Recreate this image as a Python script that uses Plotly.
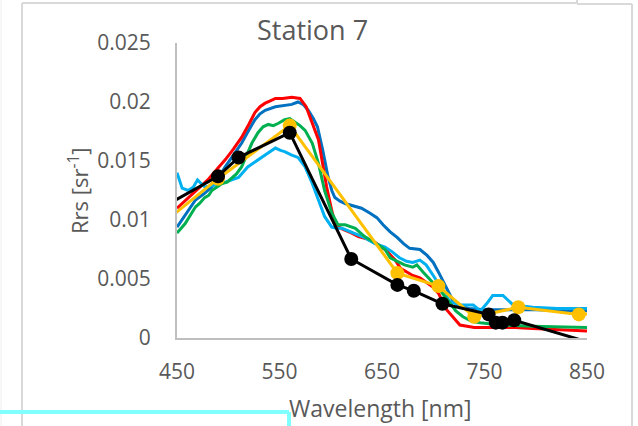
import plotly.graph_objects as go

# ---------------- data ----------------
red_wl = [450, 460, 470, 480, 490, 497, 505, 513, 520, 526, 531, 536, 541, 546, 553, 562, 570, 576, 582, 588,
          592, 596, 601, 604, 608, 612, 620, 627, 635, 643, 653, 663, 668, 680, 687, 700, 705, 710, 713, 719,
          726, 733, 740, 746, 760, 780, 797, 820, 850]
red_rrs = [0.0110, 0.0118, 0.0126, 0.0134, 0.0144, 0.0151, 0.0160, 0.0170, 0.0181, 0.0191, 0.0196, 0.0199,
           0.0201, 0.0203, 0.0203, 0.0204, 0.0203, 0.0196, 0.0182, 0.0168, 0.0148, 0.0128, 0.0108, 0.0097,
           0.0094, 0.0092, 0.0089, 0.0086, 0.0084, 0.0081, 0.0075, 0.0066, 0.0059, 0.0053, 0.0051, 0.0043,
           0.0038, 0.0030, 0.0024, 0.0018, 0.0011, 0.0010, 0.0009, 0.0009, 0.0009, 0.0009, 0.0008, 0.0007, 0.0006]

blue_wl = [450, 458, 468, 476, 484, 490, 497, 505, 513, 520, 526, 531, 536, 546, 555, 562, 568, 573, 578, 583,
           587, 592, 597, 601, 604, 609, 614, 622, 630, 638, 645, 651, 658, 665, 671, 677, 687, 694, 700, 705,
           710, 715, 719, 725, 735, 750, 770, 800, 830, 850]
blue_rrs = [0.0094, 0.0104, 0.0117, 0.0122, 0.0128, 0.0135, 0.0145, 0.0155, 0.0165, 0.0176, 0.0185, 0.0190,
            0.0193, 0.0196, 0.0197, 0.0198, 0.0200, 0.0198, 0.0193, 0.0186, 0.0179, 0.0160, 0.0138, 0.0125,
            0.0119, 0.0116, 0.0114, 0.0112, 0.0110, 0.0106, 0.0102, 0.0096, 0.0090, 0.0085, 0.0080, 0.0076,
            0.0075, 0.0070, 0.0064, 0.0056, 0.0047, 0.0039, 0.0032, 0.0027, 0.0025, 0.0024, 0.0024, 0.0024,
            0.0023, 0.0023]

green_wl = [450, 454, 458, 463, 468, 472, 477, 481, 484, 489, 494, 499, 504, 508, 513, 518, 523, 529, 534, 539,
            544, 549, 555, 560, 565, 570, 575, 582, 588, 594, 601, 607, 614, 620, 624, 633, 643, 653, 658, 665,
            672, 680, 684, 690, 700, 707, 716, 722, 729, 738, 746, 765, 797, 850]
green_rrs = [0.0089, 0.0093, 0.0097, 0.0104, 0.0111, 0.0114, 0.0119, 0.0121, 0.0125, 0.0128, 0.0131, 0.0132,
             0.0136, 0.0139, 0.0145, 0.0155, 0.0165, 0.0174, 0.0179, 0.0181, 0.0180, 0.0182, 0.0185, 0.0186,
             0.0183, 0.0180, 0.0176, 0.0165, 0.0148, 0.0125, 0.0106, 0.0096, 0.0096, 0.0094, 0.0093, 0.0086,
             0.0081, 0.0075, 0.0068, 0.0065, 0.0062, 0.0060, 0.0062, 0.0056, 0.0047, 0.0040, 0.0030, 0.0023,
             0.0018, 0.0014, 0.0013, 0.0011, 0.0010, 0.0009]

lblue_wl = [450, 455, 461, 466, 470, 474, 477, 484, 490, 500, 510, 519, 526, 533, 540, 546, 551, 555, 562, 568,
            575, 582, 588, 594, 601, 606, 611, 620, 633, 643, 653, 660, 667, 674, 680, 687, 693, 700, 707, 716,
            726, 739, 746, 752, 758, 768, 778, 797, 821, 850]
lblue_rrs = [0.0140, 0.0127, 0.0125, 0.0128, 0.0134, 0.0131, 0.0128, 0.0129, 0.0130, 0.0133, 0.0136, 0.0145,
             0.0149, 0.0153, 0.0157, 0.0161, 0.0159, 0.0158, 0.0155, 0.0153, 0.0145, 0.0131, 0.0117, 0.0103,
             0.0094, 0.0093, 0.0093, 0.0090, 0.0085, 0.0080, 0.0077, 0.0073, 0.0068, 0.0065, 0.0064, 0.0066,
             0.0062, 0.0053, 0.0043, 0.0031, 0.0028, 0.0028, 0.0023, 0.0029, 0.0036, 0.0036, 0.0028, 0.0026,
             0.0025, 0.0025]

msi_wl = [443, 490, 560, 665, 705, 740, 783, 842, 865]
msi_rrs = [0.0102, 0.0135, 0.0180, 0.0055, 0.0044, 0.0018, 0.0026, 0.0020, 0.0021]

olci_wl = [442.5, 490, 510, 560, 620, 665, 681, 709, 754, 761, 767.5, 779, 865]
olci_rrs = [0.0114, 0.0137, 0.0153, 0.0174, 0.0067, 0.0045, 0.0040, 0.0029, 0.0020, 0.0013, 0.0013, 0.0015, -0.0007]

x_ticks = [450, 550, 650, 750, 850]
y_ticks = [0, 0.005, 0.01, 0.015, 0.02, 0.025]
y_ticktext = ["0", "0.005", "0.01", "0.015", "0.02", "0.025"]

# ---------------- figure ----------------
FONT = "Open Sans"
GREY = "#595959"

fig = go.Figure()
line_series = [
    (blue_wl, blue_rrs, "#0070C0"),
    (red_wl, red_rrs, "#FF0000"),
    (lblue_wl, lblue_rrs, "#00B0F0"),
    (green_wl, green_rrs, "#00B050"),
]
for wl, rrs, col in line_series:
    fig.add_trace(go.Scatter(x=wl, y=rrs, mode="lines", line=dict(color=col, width=3), hoverinfo="skip"))

fig.add_trace(go.Scatter(x=msi_wl, y=msi_rrs, mode="lines+markers",
                         line=dict(color="#FFC000", width=3),
                         marker=dict(color="#FFC000", size=14)))
fig.add_trace(go.Scatter(x=olci_wl, y=olci_rrs, mode="lines+markers",
                         line=dict(color="#000000", width=3),
                         marker=dict(color="#000000", size=14)))

L, R, T, B = 177, 51, 43, 88
W, H = 638, 426
PW, PH = W - L - R, H - T - B


def px(x):
    return (x - L) / PW


def py(y):
    return (H - B - y) / PH


shapes = []


def seg(x0, y0, x1, y1, color, width):
    shapes.append(dict(type="line", xref="paper", yref="paper",
                       x0=px(x0), y0=py(y0), x1=px(x1), y1=py(y1),
                       line=dict(color=color, width=width)))


# decorative frame pieces around the chart
seg(22, 3, 577, 3, "#D9D9D9", 2)
seg(22, 3, 22, 426, "#D9D9D9", 2)
seg(577, 0, 577, 3, "#D9D9D9", 2)
seg(577, 4, 632, 4, "#D9D9D9", 2)
seg(632, 4, 632, 426, "#D9D9D9", 2)
seg(1, 0, 1, 426, "#EEEEEE", 1)
seg(0, 412, 289, 412, "#80FFFF", 4)
seg(289, 412, 289, 426, "#80FFFF", 4)

annotations = [
    dict(text="Station 7", x=px(312), y=py(29), xref="paper", yref="paper", showarrow=False,
         font=dict(family=FONT, size=27, color=GREY), xanchor="center", yanchor="middle"),
    dict(text="Wavelength [nm]", x=px(380), y=py(408), xref="paper", yref="paper", showarrow=False,
         font=dict(family=FONT, size=23, color=GREY), xanchor="center", yanchor="middle"),
    dict(text="Rrs [sr<sup>-1</sup>]", x=px(78), y=py(191), xref="paper", yref="paper", showarrow=False,
         textangle=-90, font=dict(family=FONT, size=22, color=GREY), xanchor="center", yanchor="middle"),
]

fig.update_layout(
    width=W, height=H,
    margin=dict(l=L, r=R, t=T, b=B),
    paper_bgcolor="white", plot_bgcolor="white",
    showlegend=False,
    shapes=shapes,
    annotations=annotations,
    xaxis=dict(range=[450, 850], tickvals=x_ticks, showgrid=False, zeroline=False,
               showline=True, linecolor="#BFBFBF", linewidth=2, ticks="",
               tickfont=dict(family=FONT, size=21, color=GREY), ticklabelstandoff=14),
    yaxis=dict(range=[0, 0.025], tickvals=y_ticks, ticktext=y_ticktext, showgrid=False, zeroline=False,
               showline=True, linecolor="#BFBFBF", linewidth=2, ticks="",
               tickfont=dict(family=FONT, size=21, color=GREY), ticklabelstandoff=20),
)

fig.write_html("out.html")
